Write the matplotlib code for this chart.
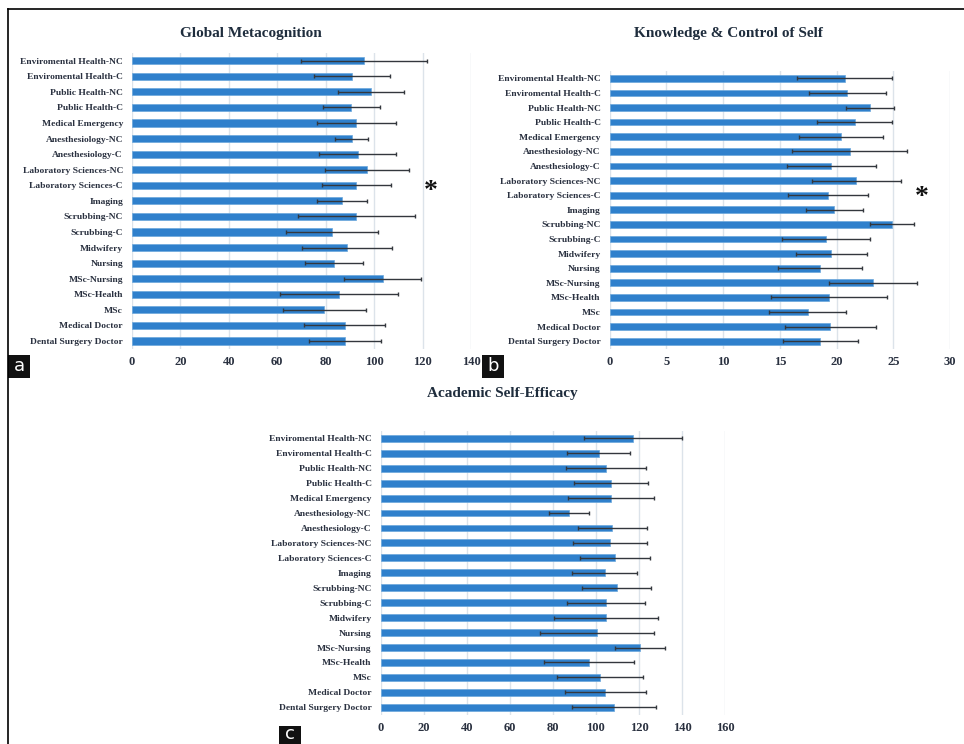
import matplotlib
matplotlib.use("Agg")
from matplotlib import pyplot as plt
from matplotlib.lines import Line2D
from matplotlib.patches import Rectangle

groups = ["Enviromental Health-NC", "Enviromental Health-C", "Public Health-NC",
          "Public Health-C", "Medical Emergency", "Anesthesiology-NC",
          "Anesthesiology-C", "Laboratory Sciences-NC", "Laboratory Sciences-C",
          "Imaging", "Scrubbing-NC", "Scrubbing-C", "Midwifery", "Nursing",
          "MSc-Nursing", "MSc-Health", "MSc", "Medical Doctor", "Dental Surgery Doctor"]

# Global Metacognition: mean and SD per group
gm_mean = [95.9, 90.9, 98.7, 90.6, 92.7, 90.7, 93.2, 97.1, 92.7, 86.6,
           92.7, 82.7, 88.8, 83.4, 103.5, 85.5, 79.4, 87.8, 88.1]
gm_sd = [26.0, 15.8, 13.7, 11.7, 16.2, 6.8, 15.8, 17.2, 14.1, 10.4,
         24.0, 19.0, 18.4, 12.0, 15.8, 24.4, 17.2, 16.8, 14.9]

# Knowledge & Control of Self
kc_mean = [20.7, 20.95, 22.95, 21.6, 20.35, 21.15, 19.55, 21.75, 19.25, 19.8,
           24.9, 19.05, 19.55, 18.55, 23.2, 19.35, 17.45, 19.45, 18.55]
kc_sd = [4.2, 3.4, 2.1, 3.3, 3.7, 5.1, 3.9, 3.9, 3.5, 2.5,
         1.95, 3.9, 3.1, 3.7, 3.9, 5.1, 3.4, 4.0, 3.3]

# Academic Self-Efficacy
ase_mean = [117.4, 101.3, 104.7, 107.0, 107.0, 87.7, 107.7, 106.6, 108.9, 104.1,
            109.7, 104.7, 104.7, 100.5, 120.5, 96.8, 101.9, 104.4, 108.4]
ase_sd = [22.8, 14.6, 18.4, 17.4, 20.0, 9.3, 16.0, 17.1, 16.2, 15.0,
          16.1, 18.0, 24.0, 26.5, 11.5, 20.8, 20.0, 18.7, 19.4]

W, H = 964, 744
fig = plt.figure(figsize=(W / 100, H / 100), dpi=100)
fig.patch.set_facecolor("white")

serif = ["Liberation Serif", "DejaVu Serif"]
txt = "#2a3140"


def panel(rect, means, sds, xmax, step, title):
    x0, y0, x1, y1 = rect
    ax = fig.add_axes([x0 / W, 1 - y1 / H, (x1 - x0) / W, (y1 - y0) / H])
    pos = list(range(len(groups)))
    ax.barh(pos, means, height=0.46, color="#2f80cc", edgecolor="#6ba7dc",
            linewidth=0.5, zorder=2,
            xerr=sds, error_kw=dict(ecolor="#33373d", elinewidth=1.0,
                                    capsize=1.6, capthick=1.0, zorder=3))
    ax.set_ylim(len(groups) - 0.5, -0.5)
    ax.set_xlim(0, xmax)
    ax.set_xticks(range(0, xmax + 1, step))
    ax.set_yticks(pos)
    ax.set_yticklabels(groups, fontfamily=serif, fontweight="bold",
                       fontsize=6.8, color=txt)
    for lab in ax.get_xticklabels():
        lab.set_fontfamily(serif)
        lab.set_fontweight("bold")
        lab.set_fontsize(9)
        lab.set_color(txt)
    ax.tick_params(axis="y", length=0, pad=6.5)
    ax.tick_params(axis="x", length=0, pad=5.5)
    ax.grid(axis="x", color="#dce3ea", linewidth=1.0, zorder=0)
    ax.set_axisbelow(True)
    for s in ax.spines.values():
        s.set_visible(False)
    fig.text(title[1] / W, 1 - title[2] / H, title[0], ha="center", va="center",
             fontfamily=serif, fontweight="bold", fontsize=11, color="#1f2d3d")
    return ax


ax_a = panel((132, 52.9, 471, 348.8), gm_mean, gm_sd, 140, 20,
             ("Global Metacognition", 251, 33))
ax_b = panel((609.7, 71, 950, 348.6), kc_mean, kc_sd, 30, 5,
             ("Knowledge & Control of Self", 728, 33))
ax_c = panel((380.7, 430.8, 725, 714.8), ase_mean, ase_sd, 160, 20,
             ("Academic Self-Efficacy", 502, 393))

# significance markers
for sx, sy in [(431, 191), (922, 197)]:
    fig.text(sx / W, 1 - sy / H, "*", ha="center", va="center",
             fontsize=20, fontweight="bold", color="#111111", fontfamily=serif)

# outer frame (top and left edges)
fig.add_artist(Line2D([8 / W, 1], [1 - 9 / H, 1 - 9 / H], color="black", lw=1.2))
fig.add_artist(Line2D([8 / W, 8 / W], [0, 1 - 9 / H], color="black", lw=1.2))

# panel letters
for letter, bx, by, ly in [("a", 8, 355, 366), ("b", 482, 355, 366), ("c", 279, 726, 734)]:
    fig.add_artist(Rectangle((bx / W, 1 - (by + 23) / H), 22 / W, 23 / H,
                             facecolor="#111111", edgecolor="none",
                             transform=fig.transFigure))
    fig.text((bx + 11) / W, 1 - ly / H, letter, ha="center", va="center",
             color="white", fontsize=13, fontfamily="DejaVu Sans")

fig.savefig("out.png", dpi=100, facecolor="white")
